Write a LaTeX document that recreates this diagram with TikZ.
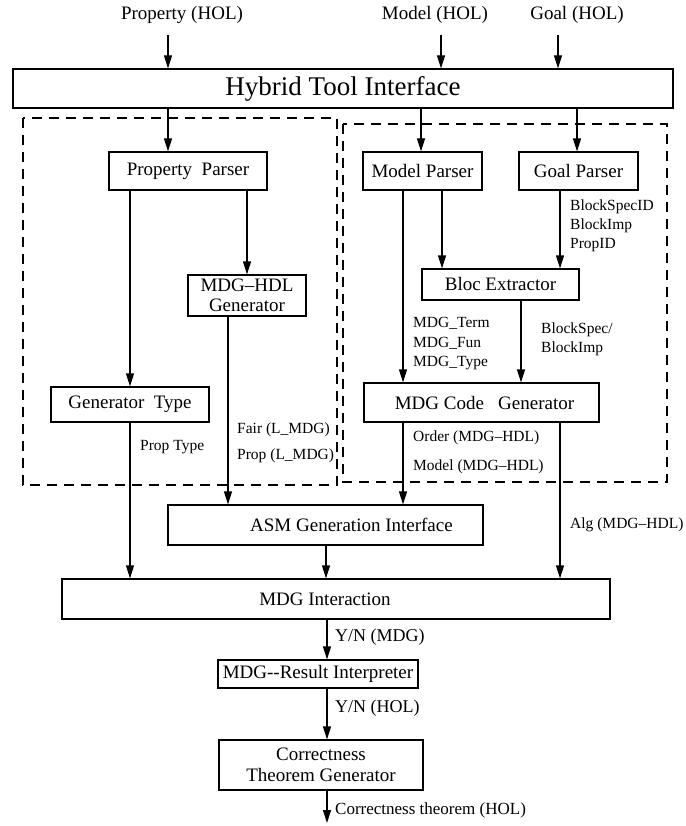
\documentclass[tikz,border=0pt]{standalone}
\usepackage{fontspec}
\setmainfont{Liberation Serif}
\usetikzlibrary{arrows.meta}
\begin{document}
\begin{tikzpicture}[x=1pt,y=-1pt,
  box/.style={draw, line width=1.2pt, inner sep=0pt, align=center, font=\fontsize{19}{21}\selectfont},
  toplbl/.style={inner sep=0pt, font=\fontsize{19}{21}\selectfont},
  lbl/.style={inner sep=0pt, anchor=west, align=left, font=\fontsize{15.5}{19.5}\selectfont},
  ynlbl/.style={inner sep=0pt, anchor=west, font=\fontsize{18}{20}\selectfont},
  arr/.style={-{Triangle[length=13pt,width=8pt]}, line width=1.2pt},
  dbox/.style={draw, line width=1.2pt, dash pattern=on 10pt off 7pt}]
\useasboundingbox[fill=white] (0,0) rectangle (685,826);

% top labels
\node[toplbl] (lprop) at (182,15) {Property (HOL)};
\node[toplbl] (lmodel) at (435,15) {Model (HOL)};
\node[toplbl] (lgoal) at (577,15) {Goal (HOL)};
\coordinate (t1) at (168,35);
\coordinate (t2) at (441,35);
\coordinate (t3) at (558,35);

% boxes
\node[box, minimum width=660pt, minimum height=39pt, font=\fontsize{27}{29}\selectfont] (hti) at (343,88.5) {Hybrid Tool Interface};
\node[box, minimum width=158pt, minimum height=38pt] (pp) at (188,171) {Property~~Parser};
\node[box, minimum width=119pt, minimum height=38pt] (mp) at (422.5,171) {Model Parser};
\node[box, minimum width=119pt, minimum height=38pt] (gp) at (578.5,171) {Goal Parser};
\node[box, minimum width=118pt, minimum height=41pt, font=\fontsize{19}{20}\selectfont] (mhg) at (247,295.5) {MDG--HDL\\Generator};
\node[box, minimum width=158pt, minimum height=35pt] (gt) at (130,404.5) {Generator~~Type};
\node[box, minimum width=157pt, minimum height=31pt] (be) at (500.5,284.5) {Bloc Extractor};
\node[box, minimum width=235pt, minimum height=39pt] (mcg) at (481.5,402.5) {\hspace{6pt}MDG Code~~~Generator};
\node[box, minimum width=315pt, minimum height=40pt] (asm) at (325.5,525) {\hspace{52pt}ASM Generation Interface};
\node[box, minimum width=548pt, minimum height=40pt] (mi) at (336,599) {MDG Interaction\hspace{22pt}};
\node[box, minimum width=200pt, minimum height=28pt] (mri) at (318,674) {MDG-{}-Result Interpreter};
\node[box, minimum width=204pt, minimum height=50pt, font=\fontsize{19}{21}\selectfont] (ctg) at (321,765) {Correctness\\Theorem Generator};

% dashed groups
\draw[dbox] (23,118) rectangle (337,485);
\draw[dbox] (343,124) rectangle (667,482);

% column coordinates
\coordinate (c421) at (421,0);
\coordinate (c577) at (577,0);
\coordinate (c228) at (228,0);
\coordinate (c403) at (403,0);
\coordinate (c442) at (442,0);
\coordinate (c560) at (560,0);
\coordinate (c521) at (521,0);
\coordinate (c326) at (326,0);
\coordinate (c327) at (327,0);
\coordinate (bend) at (327,823);

% connectors
\draw[arr] (t1) -- (t1 |- hti.north);
\draw[arr] (t2) -- (t2 |- hti.north);
\draw[arr] (t3) -- (t3 |- hti.north);
\draw[arr] (hti.south -| t1) -- (pp.north -| t1);
\draw[arr] (hti.south -| c421) -- (mp.north -| c421);
\draw[arr] (hti.south -| c577) -- (gp.north -| c577);
\draw[arr] (pp.south -| gt.north) -- (gt.north);
\draw[arr] (pp.south -| mhg.north) -- (mhg.north);
\draw[arr] (mhg.south -| c228) -- (asm.north -| c228);
\draw[arr] (gt.south) -- (mi.north -| gt.south);
\draw[arr] (mp.south -| c403) -- (mcg.north -| c403);
\draw[arr] (mp.south -| c442) -- (be.north -| c442);
\draw[arr] (gp.south -| c560) -- (be.north -| c560);
\draw[arr] (be.south -| c521) -- (mcg.north -| c521);
\draw[arr] (mcg.south -| c403) -- (asm.north -| c403);
\draw[arr] (mcg.south -| c560) -- (mi.north -| c560);
\draw[arr] (asm.south -| c326) -- (mi.north -| c326);
\draw[arr] (mi.south -| c327) -- (mri.north -| c327);
\draw[arr] (mri.south -| c327) -- (ctg.north -| c327);
\draw[arr] (ctg.south -| bend) -- (bend);

% edge labels
\node[lbl] (l1) at (570,207) {BlockSpecID};
\node[lbl] (l2) at (570,226) {BlockImp};
\node[lbl] (l3) at (570,245) {PropID};
\node[lbl] (l4) at (413,323) {MDG\_Term};
\node[lbl] (l5) at (413,343) {MDG\_Fun};
\node[lbl] (l6) at (413,363) {MDG\_Type};
\node[lbl] (l7) at (541,330) {BlockSpec/};
\node[lbl] (l8) at (541,349) {BlockImp};
\node[lbl] (l9) at (413,438) {Order (MDG--HDL)};
\node[lbl] (l10) at (413,467) {Model (MDG--HDL)};
\node[lbl] (l11) at (570,525) {Alg (MDG--HDL)};
\node[lbl] (l12) at (237,430) {Fair (L\_MDG)};
\node[lbl] (l13) at (237,456) {Prop (L\_MDG)};
\node[lbl] (l14) at (140,447) {Prop Type};
\node[ynlbl] (l15) at (335,637) {Y/N (MDG)};
\node[ynlbl] (l16) at (335,708) {Y/N (HOL)};
\node[lbl, font=\fontsize{17}{19}\selectfont] (l17) at (335,810) {Correctness theorem (HOL)};
\end{tikzpicture}
\end{document}
